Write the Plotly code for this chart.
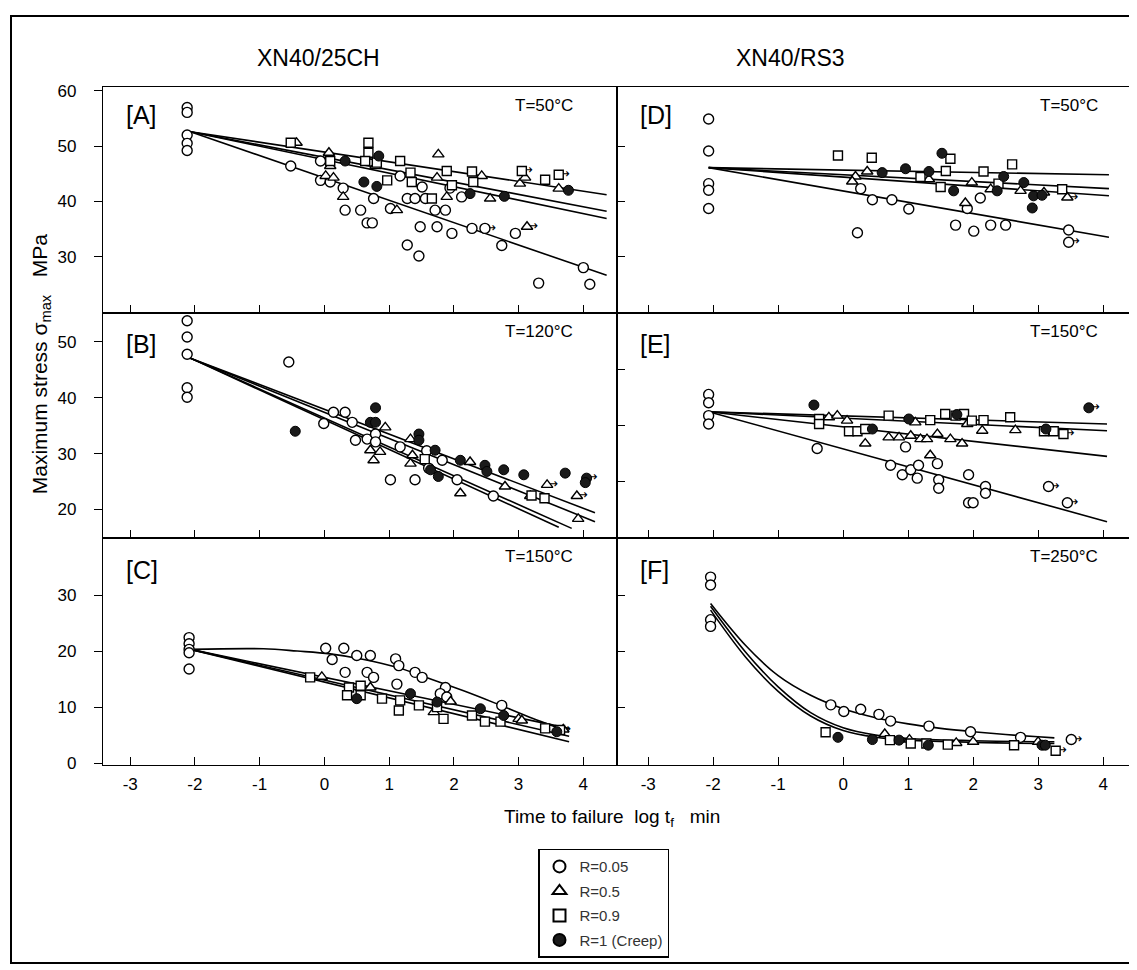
import plotly.graph_objects as go

# ---------------- DATA ----------------
# Panel A : XN40/25CH, T=50C
A_c_x = [-2.12,-2.12,-2.12,-2.12,-2.12,-0.52,-0.06,-0.06,0.09,0.29,0.32,0.56,0.66,0.74,0.76,1.02,1.17,1.28,1.40,1.56,1.51,1.71,1.87,1.74,1.94,1.28,1.46,1.48,1.97,2.12,2.28,2.48,2.95,2.74,4.0,3.31,4.1]
A_c_y = [57.0,56.1,52.0,50.5,49.2,46.4,47.3,43.8,43.5,42.4,38.4,38.4,36.1,36.1,40.5,38.7,44.6,40.5,40.5,40.5,42.6,38.4,38.4,35.4,42.4,32.1,30.1,35.4,34.2,40.8,35.1,35.1,34.2,32.0,28.0,25.2,25.0]
A_t_x = [-0.43,0.07,0.09,0.02,0.14,0.29,0.79,1.12,1.74,1.76,1.89,2.43,2.56,3.02,3.10,3.13,3.62]
A_t_y = [50.6,48.8,46.4,44.6,44.3,40.8,46.4,38.4,44.3,48.5,40.8,44.6,40.5,43.2,44.3,35.4,42.3]
A_s_x = [-0.52,0.09,0.68,0.68,0.63,0.81,0.97,1.17,1.33,1.35,1.66,1.89,1.97,2.28,2.30,3.05,3.41,3.62]
A_s_y = [50.6,47.3,50.6,48.8,47.3,47.0,43.8,47.3,45.2,43.5,40.5,45.5,42.9,45.4,43.5,45.5,43.9,44.8]
A_f_x = [0.32,0.61,0.81,0.84,2.25,2.78,3.77]
A_f_y = [47.3,43.5,42.7,48.2,41.4,40.9,42.0]
A_fit_x = [-2.07, 4.36]
A_fit_c = [52.6, 26.6]
A_fit_t = [52.6, 36.9]
A_fit_s = [52.6, 41.2]
A_fit_f = [52.6, 38.2]
A_run_x = [2.48, 3.05, 3.13, 3.62]
A_run_y = [35.1, 45.5, 35.4, 44.8]

# Panel D : XN40/RS3, T=50C
D_c_x = [-2.07,-2.07,-2.07,-2.07,-2.07,0.27,0.45,0.75,1.01,0.22,1.91,1.73,2.01,2.11,2.27,2.50,3.47,3.47]
D_c_y = [54.9,49.1,43.2,42.0,38.7,42.3,40.3,40.3,38.6,34.3,38.7,35.7,34.6,40.6,35.7,35.7,34.8,32.6]
D_t_x = [0.19,0.37,0.14,1.32,1.88,1.98,2.27,2.73,3.09,3.45]
D_t_y = [44.5,45.4,43.6,44.0,39.7,43.4,42.2,41.9,41.6,40.7]
D_s_x = [-0.08,0.44,1.65,1.58,1.19,1.50,2.16,2.39,2.60,3.37]
D_s_y = [48.3,47.9,47.7,45.5,44.4,42.6,45.4,43.2,46.7,42.2]
D_f_x = [0.60,0.96,1.32,1.52,1.70,2.37,2.47,2.78,2.93,3.06,2.91]
D_f_y = [45.2,45.9,45.4,48.7,41.9,41.9,44.5,43.4,41.0,41.1,38.8]
D_fit_x = [-2.07, 4.09]
D_fit_c = [46.1, 33.5]
D_fit_t = [46.1, 41.0]
D_fit_s = [46.1, 44.8]
D_fit_f = [46.1, 42.3]
D_run_x = [3.45, 3.47]
D_run_y = [40.7, 32.6]

# Panel B : XN40/25CH, T=120C
B_c_x = [-2.12,-2.12,-2.12,-2.12,-2.12,-0.55,-0.01,0.14,0.32,0.43,0.48,0.66,0.79,1.02,0.79,1.17,1.58,1.61,1.40,1.82,2.05,2.61]
B_c_y = [53.8,50.9,47.8,41.8,40.1,46.4,35.4,37.4,37.4,35.6,32.4,32.6,33.5,25.3,32.1,31.2,30.5,27.4,25.3,28.8,25.3,22.4]
B_t_x = [0.71,0.86,0.76,0.94,1.33,1.36,1.33,2.25,2.10,2.79,3.18,3.44,3.90,3.92]
B_t_y = [30.6,30.3,28.8,34.7,32.6,29.7,28.2,28.5,22.9,24.1,22.4,24.4,22.4,18.3]
B_s_x = [1.55,3.20,3.40]
B_s_y = [29.0,22.5,22.0]
B_f_x = [-0.45,0.79,0.71,0.79,1.46,1.46,1.71,1.76,1.64,2.10,2.48,2.51,2.77,3.08,3.72,4.05,4.03]
B_f_y = [34.0,38.2,35.6,35.6,33.5,32.4,30.6,25.9,27.1,28.8,27.9,26.8,27.1,26.2,26.5,25.6,24.8]
B_fit_x0 = -2.07
B_fit_y0 = 47.1
B_fit_c = [3.62, 16.8]
B_fit_t = [3.82, 16.6]
B_fit_s = [4.18, 17.8]
B_fit_f = [4.18, 19.4]
B_run_x = [3.44, 3.90, 4.05]
B_run_y = [24.4, 22.4, 25.6]

# Panel E : XN40/RS3, T=150C
E_c_x = [-2.07,-2.07,-2.07,-2.07,-0.40,0.73,0.91,1.04,1.16,1.14,1.47,1.47,0.96,1.45,1.93,2.19,2.19,1.93,2.00,3.16,3.45]
E_c_y = [40.6,39.1,36.8,35.3,30.9,27.9,26.2,27.1,27.9,25.6,25.3,23.8,31.2,28.2,26.2,24.1,22.9,21.2,21.2,24.1,21.2]
E_t_x = [-0.22,-0.09,0.06,0.34,0.70,0.86,1.04,1.19,1.29,1.45,1.65,1.83,1.34,2.14,2.65,1.91,1.11]
E_t_y = [36.5,36.8,35.9,31.8,32.9,32.9,33.2,32.6,32.6,33.5,32.6,31.8,29.7,34.1,34.2,35.3,35.6]
E_s_x = [-0.37,-0.37,0.09,0.22,0.34,0.70,1.34,1.57,1.73,1.86,1.98,2.16,2.57,3.09,3.24,3.39]
E_s_y = [36.2,35.3,34.0,34.0,34.4,36.8,36.0,37.1,36.8,37.1,35.9,36.0,36.5,34.0,34.0,33.5]
E_f_x = [-0.45,0.45,1.01,1.75,3.12,3.78]
E_f_y = [38.7,34.4,36.2,37.0,34.4,38.2]
E_fit_x = [-2.07, 4.06]
E_fit_c = [37.5, 17.8]
E_fit_t = [37.5, 29.5]
E_fit_s = [37.5, 35.3]
E_fit_f = [37.5, 34.1]
E_run_x = [3.39, 3.16, 3.45, 3.78]
E_run_y = [33.5, 24.1, 21.2, 38.2]

# Panel C : XN40/25CH, T=150C
C_c_x = [-2.09,-2.09,-2.09,-2.09,-2.09,0.02,0.30,0.12,0.50,0.71,1.10,1.15,0.32,0.66,0.76,1.40,1.51,1.12,1.87,1.79,1.89,2.74]
C_c_y = [22.4,21.3,20.3,19.7,16.8,20.5,20.5,18.5,19.2,19.2,18.6,17.4,16.2,16.2,15.3,16.2,15.3,14.1,13.5,12.4,11.8,10.3]
C_t_x = [-0.04,0.71,1.69,1.95,3.00,3.05,3.69]
C_t_y = [15.4,13.5,9.1,11.0,7.9,7.6,6.0]
C_s_x = [-0.22,0.38,0.56,0.35,0.56,0.89,1.17,1.15,1.46,1.74,1.84,2.28,2.48,2.72,3.41,3.64]
C_s_y = [15.3,13.5,13.8,12.1,12.1,11.5,11.2,9.4,10.3,10.0,7.9,8.5,7.4,7.4,6.2,5.9]
C_f_x = [0.50,1.33,1.74,2.41,2.77,3.59]
C_f_y = [11.5,12.4,10.9,9.7,8.5,5.6]
C_curve_c_x = [-2.07,-0.94,-0.42,0.09,0.61,1.12,1.64,2.15,2.66,3.17,3.78]
C_curve_c_y = [20.3,20.4,20.0,19.5,18.5,17.1,15.0,12.9,10.6,8.2,5.6]
C_fit_x = [-2.07, 3.78]
C_fit_t = [20.3, 6.2]
C_fit_s = [20.3, 4.8]
C_fit_f = [20.3, 3.8]
C_run_x = [3.64]
C_run_y = [5.9]

# Panel F : XN40/RS3, T=250C
F_c_x = [-2.04,-2.04,-2.04,-2.04,-0.19,0.01,0.27,0.55,0.73,1.32,1.96,2.73,3.51]
F_c_y = [33.2,31.8,25.6,24.4,10.4,9.2,9.6,8.7,7.5,6.6,5.6,4.6,4.2]
F_t_x = [0.64,1.02,1.74,2.00,3.00]
F_t_y = [5.2,4.2,3.6,3.8,3.8]
F_s_x = [-0.27,0.72,1.04,1.28,1.61,2.63,3.27]
F_s_y = [5.5,4.1,3.5,3.5,3.3,3.2,2.2]
F_f_x = [-0.08,0.45,0.86,1.31,3.06,3.11]
F_f_y = [4.6,4.2,4.1,3.2,3.2,3.2]
F_curve_c_x = [-2.04,-1.5,-1.0,-0.5,0.0,0.5,1.0,1.5,2.0,2.5,3.0,3.25]
F_curve_c_y = [28.5,21.0,15.6,12.1,9.7,8.1,7.0,6.2,5.6,5.1,4.7,4.5]
F_curve_x = [-2.04,-1.5,-1.0,-0.5,0.0,0.5,1.0,2.0,3.0,3.25]
F_curve_t_y = [28.0,19.8,13.6,9.0,6.3,5.0,4.4,4.0,3.8,3.8]
F_curve_s_y = [27.3,18.9,12.8,8.4,5.8,4.6,4.1,3.7,3.5,3.5]
F_run_x = [3.51, 3.27]
F_run_y = [4.2, 2.2]

series_names = ["R=0.05", "R=0.5", "R=0.9", "R=1 (Creep)"]
x_ticks = [-3, -2, -1, 0, 1, 2, 3, 4]
panel_letters = ["[A]", "[D]", "[B]", "[E]", "[C]", "[F]"]
panel_temps = ["T=50°C", "T=50°C", "T=120°C", "T=150°C", "T=150°C", "T=250°C"]
col_titles = ["XN40/25CH", "XN40/RS3"]

# ---------------- FIGURE ----------------
W, H = 1137, 970
FONT = "Liberation Sans, Arial, sans-serif"

def px(x):
    return x / W

def py(y):
    return 1 - y / H

col_x = [(95, 609), (609, 1125)]
x_ranges = [[-3.42, 4.52], [-3.48, 4.46]]
row_y = [(75, 304), (304, 532), (532, 762)]
letter_dy = [28, 31, 33]
temp_dx = [42, 33]
y_ranges = [[19.8, 60.7], [19.8, 60.7], [14.9, 55.2], [14.9, 55.2], [-0.3, 40.2], [-0.3, 40.2]]
y_ticks = [[30, 40, 50, 60], [30, 40, 50], [20, 30, 40, 50], [25, 35, 45], [0, 10, 20, 30], [10, 20, 30]]

fig = go.Figure()

def mstyle(kind):
    if kind == "c":
        return dict(symbol="circle", size=10, color="white", line=dict(color="black", width=1.4))
    if kind == "t":
        return dict(symbol="triangle-up", size=10, color="white", line=dict(color="black", width=1.4))
    if kind == "s":
        return dict(symbol="square", size=9, color="white", line=dict(color="black", width=1.4))
    return dict(symbol="circle", size=10, color="#1a1a1a", line=dict(color="black", width=1))

def add_line(ax, xs, ys, shape="linear"):
    fig.add_trace(go.Scatter(x=xs, y=ys, mode="lines", xaxis="x" + ax, yaxis="y" + ax,
                             line=dict(color="black", width=1.6, shape=shape),
                             showlegend=False, hoverinfo="skip"))

def add_pts(ax, xs, ys, kind, legend=False):
    idx = "ctsf".index(kind)
    fig.add_trace(go.Scatter(x=xs, y=ys, mode="markers", xaxis="x" + ax, yaxis="y" + ax,
                             marker=mstyle(kind), name=series_names[idx],
                             legendgroup=series_names[idx], showlegend=legend))

def add_runouts(ax, xs, ys):
    fig.add_trace(go.Scatter(x=xs, y=ys, mode="text", xaxis="x" + ax, yaxis="y" + ax,
                             text=["→"] * len(xs), textposition="middle right",
                             textfont=dict(size=13, color="black", family="DejaVu Sans"),
                             showlegend=False, hoverinfo="skip"))

for ys in (A_fit_c, A_fit_t, A_fit_s, A_fit_f):
    add_line("", A_fit_x, ys)
for ys in (D_fit_c, D_fit_t, D_fit_s, D_fit_f):
    add_line("2", D_fit_x, ys)
for end in (B_fit_c, B_fit_t, B_fit_s, B_fit_f):
    add_line("3", [B_fit_x0, end[0]], [B_fit_y0, end[1]])
for ys in (E_fit_c, E_fit_t, E_fit_s, E_fit_f):
    add_line("4", E_fit_x, ys)
add_line("5", C_curve_c_x, C_curve_c_y, "spline")
for ys in (C_fit_t, C_fit_s, C_fit_f):
    add_line("5", C_fit_x, ys)
add_line("6", F_curve_c_x, F_curve_c_y, "spline")
add_line("6", F_curve_x, F_curve_t_y, "spline")
add_line("6", F_curve_x, F_curve_s_y, "spline")

panels = [
    ("", (A_c_x, A_c_y), (A_t_x, A_t_y), (A_s_x, A_s_y), (A_f_x, A_f_y), (A_run_x, A_run_y)),
    ("2", (D_c_x, D_c_y), (D_t_x, D_t_y), (D_s_x, D_s_y), (D_f_x, D_f_y), (D_run_x, D_run_y)),
    ("3", (B_c_x, B_c_y), (B_t_x, B_t_y), (B_s_x, B_s_y), (B_f_x, B_f_y), (B_run_x, B_run_y)),
    ("4", (E_c_x, E_c_y), (E_t_x, E_t_y), (E_s_x, E_s_y), (E_f_x, E_f_y), (E_run_x, E_run_y)),
    ("5", (C_c_x, C_c_y), (C_t_x, C_t_y), (C_s_x, C_s_y), (C_f_x, C_f_y), (C_run_x, C_run_y)),
    ("6", (F_c_x, F_c_y), (F_t_x, F_t_y), (F_s_x, F_s_y), (F_f_x, F_f_y), (F_run_x, F_run_y)),
]
for i, (ax, c, t, s, f, run) in enumerate(panels):
    add_runouts(ax, run[0], run[1])
    for kind, (xs, ys) in zip("ctsf", (c, t, s, f)):
        add_pts(ax, xs, ys, kind, legend=(i == 0))

layout = dict(width=W, height=H, autosize=False, margin=dict(l=0, r=0, t=0, b=0),
              paper_bgcolor="white", plot_bgcolor="white",
              font=dict(family=FONT, color="black", size=16))

annotations = []
for i in range(6):
    r, c = divmod(i, 2)
    suffix = "" if i == 0 else str(i + 1)
    x0, x1 = col_x[c]
    y0, y1 = row_y[r]
    layout["xaxis" + suffix] = dict(
        domain=[px(x0), px(x1)], range=x_ranges[c], anchor="y" + suffix,
        tickvals=x_ticks, ticktext=[str(v) for v in x_ticks],
        showticklabels=(r == 2), ticks="inside", ticklen=8, tickwidth=1.2, tickcolor="black",
        showline=True, linecolor="black", linewidth=1.3, mirror=True,
        showgrid=False, zeroline=False, fixedrange=True, ticklabelstandoff=4,
        tickfont=dict(size=17, family=FONT, color="black"))
    layout["yaxis" + suffix] = dict(
        domain=[py(y1), py(y0)], range=y_ranges[i], anchor="x" + suffix,
        tickvals=y_ticks[i], showticklabels=(c == 0),
        ticks=("outside" if c == 0 else "inside"), ticklen=8, tickwidth=1.2, tickcolor="black",
        showline=True, linecolor="black", linewidth=1.3, mirror=True,
        showgrid=False, zeroline=False, fixedrange=True, ticklabelstandoff=14,
        tickfont=dict(size=17, family=FONT, color="black"))
    annotations.append(dict(text=panel_letters[i], x=px(x0 + 21), y=py(y0 + letter_dy[r]), xref="paper", yref="paper",
                            xanchor="left", yanchor="middle", showarrow=False,
                            font=dict(size=25, family=FONT, color="black")))
    annotations.append(dict(text=panel_temps[i], x=px(x1 - temp_dx[c]), y=py(y0 + 19), xref="paper", yref="paper",
                            xanchor="right", yanchor="middle", showarrow=False,
                            font=dict(size=17, family=FONT, color="black")))

title_cx = [310, 782]
for c in range(2):
    annotations.append(dict(text=col_titles[c], x=px(title_cx[c]), y=py(46), xref="paper", yref="paper",
                            xanchor="center", yanchor="middle", showarrow=False,
                            font=dict(size=23, family=FONT, color="black")))

annotations.append(dict(text="Time to failure  log t<sub>f</sub>   min", x=px(604), y=py(816),
                        xref="paper", yref="paper", xanchor="center", yanchor="middle", showarrow=False,
                        font=dict(size=19, family=FONT, color="black")))
annotations.append(dict(text="Maximum stress σ<sub>max</sub>   MPa", x=px(33), y=py(356),
                        xref="paper", yref="paper", xanchor="center", yanchor="middle", textangle=-90,
                        showarrow=False, font=dict(size=21, family=FONT, color="black")))

layout["annotations"] = annotations
layout["shapes"] = [dict(type="rect", xref="paper", yref="paper", x0=px(3), x1=px(1132), y0=py(963), y1=py(3),
                         line=dict(color="black", width=2))]
layout["legend"] = dict(x=px(530), y=py(847), xanchor="left", yanchor="top",
                        bordercolor="black", borderwidth=1.5, bgcolor="white",
                        font=dict(size=15, family=FONT, color="#333"), itemwidth=30,
                        traceorder="grouped", tracegroupgap=2, itemsizing="constant")
fig.update_layout(**layout)
fig.write_html("out.html")
